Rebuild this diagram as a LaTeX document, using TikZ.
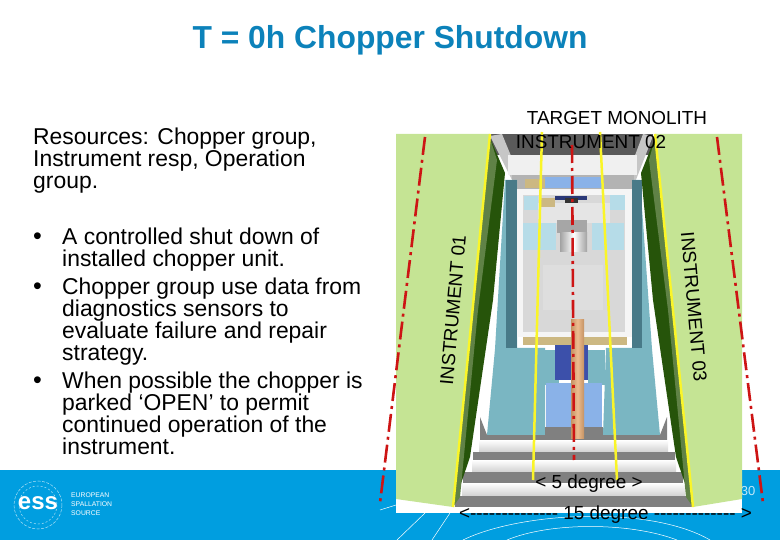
\documentclass[tikz,border=0pt]{standalone}
\usepackage{fontspec}
\setmainfont{Liberation Sans}
\newfontfamily\plainhyphen{Liberation Sans}
\usepackage{xcolor}
\usetikzlibrary{positioning,calc}
\definecolor{footerblue}{RGB}{0,158,224}
\definecolor{titleblue}{RGB}{12,130,186}
\definecolor{wedgegreen}{RGB}{197,228,148}
\definecolor{darkgreen}{RGB}{38,84,10}
\definecolor{midgreen}{RGB}{96,130,70}
\definecolor{wallteal}{RGB}{122,182,194}
\definecolor{darkteal}{RGB}{72,122,136}
\definecolor{iceblue}{RGB}{182,220,232}
\definecolor{skyblue}{RGB}{138,178,232}
\definecolor{deepblue}{RGB}{60,80,170}
\definecolor{tanbeam}{RGB}{204,184,130}
\definecolor{columntan}{RGB}{232,172,116}
\definecolor{floorgrey}{RGB}{128,128,128}
\definecolor{boxgrey}{RGB}{216,216,216}
\definecolor{redline}{RGB}{205,20,20}
\definecolor{yellowline}{RGB}{250,245,40}
\begin{document}
\begin{tikzpicture}[x=1pt, y=-1pt,
  bodytext/.style={font=\fontsize{22.9}{22}\selectfont, align=left, anchor=north west, inner sep=0pt},
  bullet/.style={font=\fontsize{25}{22}\selectfont, anchor=north west, inner sep=0pt},
  labeltext/.style={font=\fontsize{18.9}{22}\selectfont, inner sep=0pt, text=black},
  yellowedge/.style={yellowline, line width=2.5pt},
  redaxis/.style={redline, line width=2.6pt, dash pattern=on 18pt off 5pt on 3pt off 5pt},
  arcline/.style={white, line width=0.5pt},
  stepface/.style={top color=white, bottom color=white!82!black},
]
  \useasboundingbox (0,0) rectangle (780,540);

  % Footer band
  \fill[footerblue] (0,470) rectangle (780,540);
  \begin{scope}
    \clip (0,470) rectangle (780,540);
    \draw[arcline] (463,540) .. controls (520,512) and (650,505) .. (710,540);
    \draw[arcline] (507,540) .. controls (550,522) and (630,522) .. (677,540);
    \draw[arcline] (397,540) -- (425,513);
    \draw[arcline] (432,540) -- (450,513);
    \draw[arcline] (380,510) -- (396,505);
  \end{scope}

  % Logo
  \draw[white!70!footerblue, line width=0.5pt, dash pattern=on 3pt off 1.5pt] (38,505) circle (24);
  \draw[white!70!footerblue, line width=0.5pt, dash pattern=on 2pt off 2pt] (38,505) circle (19);
  \node[font=\fontsize{24}{24}\selectfont\bfseries, text=white, inner sep=0pt] (logo) at (38,503) {ess};
  \node[font=\fontsize{6.8}{9}\selectfont, text=white, align=left, anchor=west, inner sep=0pt] (logotext) at (71,504)
    {EUROPEAN\\SPALLATION\\SOURCE};
  \node[font=\fontsize{13}{13}\selectfont, text=white!75!footerblue, inner sep=0pt] (pagenum) at (748,491) {30};

  % Plan image
  \fill[white] (396,134) rectangle (742,513);
  \fill[floorgrey!70!black] (490,134) rectangle (653,155);
  \fill[floorgrey!45!white] (490,136) -- (502,134) -- (525,190) -- (517,190) -- cycle;
  \fill[floorgrey!45!white] (653,136) -- (643,134) -- (622,190) -- (632,190) -- cycle;
  \fill[white!94!black] (508,155) rectangle (637,175);
  \fill[floorgrey!60!white] (512,175) rectangle (634,189);
  \fill[tanbeam] (525,179) rectangle (545,188);
  \fill[skyblue] (545,177) rectangle (602,188);

  % Walls
  \fill[wallteal] (505,180) -- (517,180) -- (517,348) -- (545,348) -- (545,435) -- (487,435) -- (495,349) -- cycle;
  \fill[wallteal] (640,180) -- (632,180) -- (632,348) -- (606,348) -- (603,435) -- (660,435) -- (652,349) -- cycle;
  \fill[darkteal] (506,180) -- (517,180) -- (517,348) -- (506,348) -- cycle;
  \fill[darkteal] (632,180) -- (642,180) -- (642,348) -- (632,348) -- cycle;

  % Central box
  \fill[white!96!black] (517,189) rectangle (632,337);
  \fill[boxgrey] (523,195) rectangle (625,332);
  \fill[boxgrey!85!white] (543,265) rectangle (603,310);
  \fill[white!90!black] (538,203) rectangle (610,223);
  \fill[deepblue!70!black] (555,196) rectangle (587,200);
  \fill[black!80] (565,198) rectangle (578,203);
  \fill[tanbeam] (540,198) rectangle (555,207);
  \fill[iceblue] (524,196) rectangle (538,210);
  \fill[iceblue] (610,195) rectangle (625,210);
  \fill[floorgrey!70!white] (557,220) rectangle (587,233);
  \fill[iceblue] (523,223) rectangle (556,250);
  \fill[iceblue] (592,223) rectangle (624,250);
  \fill[left color=boxgrey!75!black, right color=boxgrey!75!black, middle color=white] (560,233) rectangle (587,252);
  \fill[tanbeam] (523,337) rectangle (627,345);

  % Blue bay
  \fill[wallteal] (542,350) rectangle (559,385);
  \fill[wallteal] (588,350) rectangle (605,385);
  \fill[deepblue] (555,345) rectangle (588,380);
  \fill[skyblue] (546,383) rectangle (602,427);

  % Steps
  \fill[floorgrey] (480,417) -- (487,435) -- (660,435) -- (667,417) -- (667,440) -- (480,440) -- cycle;
  \fill[floorgrey] (545,427) rectangle (603,440);
  \fill[stepface] (479,440) rectangle (668,452);
  \fill[floorgrey] (473,452) rectangle (675,460);
  \fill[stepface] (472,460) rectangle (676,472);
  \fill[floorgrey] (463,472) rectangle (683,483);
  \fill[stepface] (462,483) rectangle (685,496);
  \fill[floorgrey] (455,496) rectangle (692,507);

  % Column
  \fill[left color=columntan!85!black, right color=columntan!85!black, middle color=columntan!80!white] (571,320) rectangle (584,438);

  % Green wedges
  \fill[darkgreen] (490,138) -- (505,173) -- (493,300) -- (470,457) -- (453,507) -- cycle;
  \fill[darkgreen] (655,138) -- (641,173) -- (653,300) -- (676,457) -- (693,507) -- cycle;
  \fill[midgreen] (490,138) -- (497,160) -- (478,310) -- (460,497) -- (453,507) -- cycle;
  \fill[midgreen] (655,138) -- (649,160) -- (668,310) -- (686,497) -- (693,507) -- cycle;
  \fill[wedgegreen] (396,134) -- (490,134) -- (453,507) -- (396,499) -- cycle;
  \fill[wedgegreen] (742,134) -- (655,134) -- (693,507) -- (742,499) -- cycle;

  % Sector lines
  \coordinate (ol) at (490,134);
  \coordinate (ol2) at (453,507);
  \coordinate (or) at (655,134);
  \coordinate (or2) at (693,507);
  \coordinate (il) at (542,132);
  \coordinate (il2) at (533,480);
  \coordinate (ir) at (600,132);
  \coordinate (ir2) at (617,480);
  \coordinate (ca) at (572,145);
  \coordinate (ca2) at (574,460);
  \coordinate (rl) at (425,137);
  \coordinate (rl2) at (380,503);
  \coordinate (rr) at (717,137);
  \coordinate (rr2) at (763,503);
  \draw[yellowedge] (ol) -- (ol2);
  \draw[yellowedge] (or) -- (or2);
  \draw[yellowedge] (il) -- (il2);
  \draw[yellowedge] (ir) -- (ir2);
  \draw[redaxis] (ca) -- (ca2);
  \draw[redaxis] (rl) -- (rl2);
  \draw[redaxis] (rr) -- (rr2);

  % Title and text
  \node[font=\fontsize{31.8}{34}\selectfont\bfseries, text=titleblue, inner sep=0pt] (title) at (390,40) {T = 0h Chopper Shutdown};
  \node[bodytext] (resources) at (33,128) {Resources: Chopper group,\\Instrument resp, Operation\\group.};
  \node[bullet] (b1) at (33,233) {•};
  \node[bodytext] (item1) at (62,228) {A controlled shut down of\\installed chopper unit.};
  \node[bullet] (b2) at (33,283) {•};
  \node[bodytext] (item2) at (62,278) {Chopper group use data from\\diagnostics sensors to\\evaluate failure and repair\\strategy.};
  \node[bullet] (b3) at (33,377) {•};
  \node[bodytext] (item3) at (62,372) {When possible the chopper is\\parked ‘OPEN’ to permit\\continued operation of the\\instrument.};

  % Labels
  \node[labeltext] (monolith) at (617,118) {TARGET MONOLITH};
  \node[labeltext] (inst02) at (591,142) {INSTRUMENT 02};
  \node[labeltext, rotate=85] (inst01) at (453,310) {INSTRUMENT 01};
  \node[labeltext, rotate=-85] (inst03) at (694,307) {INSTRUMENT 03};
  \node[labeltext] (five) at (589,484) {< 5 degree >};
  \node[labeltext] (fifteen) at (605.5,515) {\plainhyphen <-------------- 15 degree ------------- >};
\end{tikzpicture}
\end{document}
